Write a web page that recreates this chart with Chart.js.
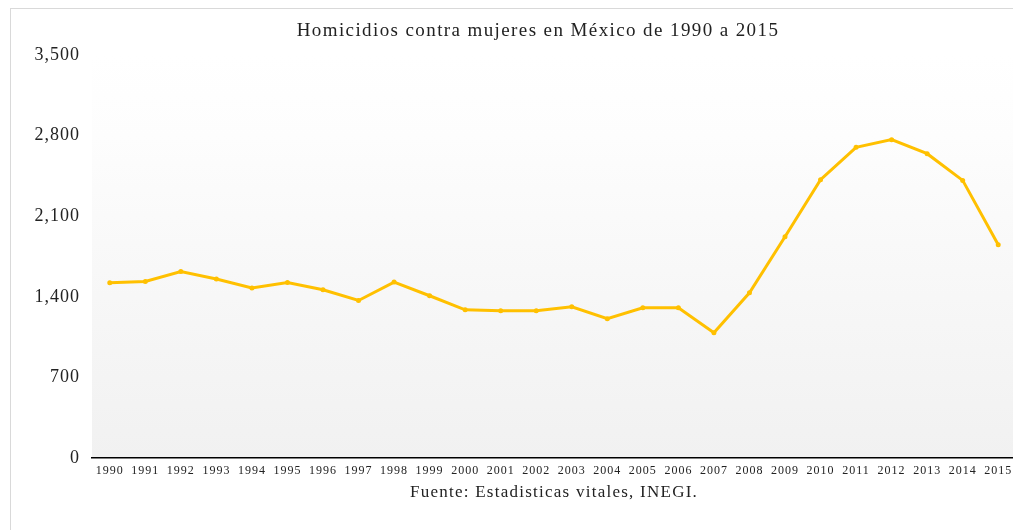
<!DOCTYPE html>
<html>
<head>
<meta charset="utf-8">
<script src="https://cdn.jsdelivr.net/npm/chart.js@4.4.1/dist/chart.umd.min.js"></script>
<style>
  html, body { margin: 0; padding: 0; background: #fff; overflow: hidden; }
  #frame { position: absolute; left: 10px; top: 8px; width: 1100px; height: 600px; border: 1px solid #d9d9d9; }
  #wrap { position: absolute; left: 0; top: 0; width: 1030px; height: 530px; }
</style>
</head>
<body>
<div id="frame"></div>
<div id="wrap"><canvas id="homicidios" width="1030" height="530"></canvas></div>
<script>
const years = ['1990', '1991', '1992', '1993', '1994', '1995', '1996', '1997', '1998', '1999',
  '2000', '2001', '2002', '2003', '2004', '2005', '2006', '2007', '2008', '2009',
  '2010', '2011', '2012', '2013', '2014', '2015'];
const homicidios = [1522, 1533, 1620, 1554, 1476, 1525, 1461, 1368, 1528, 1409,
  1287, 1278, 1278, 1313, 1209, 1304, 1304, 1087, 1435, 1922,
  2417, 2698, 2765, 2643, 2411, 1852];
const yTicks = [0, 700, 1400, 2100, 2800, 3500];

const chartTitle = 'Homicidios contra mujeres en México de 1990 a 2015';
const sourceText = 'Fuente: Estadisticas vitales, INEGI.';

// fondo degradado del area de trazado + letras algo espaciadas en los ejes
const areaBackground = {
  id: 'areaBackground',
  beforeDraw(chart) {
    const { ctx, chartArea } = chart;
    const g = ctx.createLinearGradient(0, chartArea.top, 0, chartArea.bottom);
    g.addColorStop(0, '#ffffff');
    g.addColorStop(0.2, '#fdfdfd');
    g.addColorStop(1, '#f1f1f1');
    ctx.save();
    ctx.fillStyle = g;
    ctx.fillRect(chartArea.left, chartArea.top, chartArea.right - chartArea.left, chartArea.bottom - chartArea.top);
    ctx.restore();
    ctx.letterSpacing = '1px';
  },
  beforeDatasetsDraw(chart) {
    chart.ctx.letterSpacing = '0px';
  }
};

// titulo y fuente
const titleText = {
  id: 'titleText',
  afterDraw(chart) {
    const ctx = chart.ctx;
    const area = chart.chartArea;
    ctx.save();
    ctx.fillStyle = '#222';
    ctx.textAlign = 'center';
    ctx.textBaseline = 'middle';
    ctx.font = '19px "Liberation Serif"';
    ctx.letterSpacing = '1.4px';
    ctx.fillText(chartTitle, 538, 31);
    ctx.font = '17px "Liberation Serif"';
    ctx.letterSpacing = '1.25px';
    ctx.fillText(sourceText, (area.left + area.right) / 2, 493);
    ctx.restore();
  }
};

const ctx = document.getElementById('homicidios').getContext('2d');
new Chart(ctx, {
  type: 'line',
  data: {
    labels: years,
    datasets: [{
      label: 'Homicidios',
      data: homicidios,
      borderColor: '#ffc000',
      backgroundColor: '#ffc000',
      borderWidth: 3,
      pointRadius: 1,
      pointHoverRadius: 3,
      tension: 0,
      fill: false
    }]
  },
  options: {
    responsive: false,
    animation: false,
    devicePixelRatio: 1,
    layout: { padding: { top: 55, right: 14, bottom: 0, left: 0 } },
    plugins: {
      legend: { display: false },
      title: { display: false },
      tooltip: { enabled: false }
    },
    scales: {
      x: {
        offset: true,
        grid: { display: false, drawTicks: false },
        border: { display: true, color: '#000', width: 1.5 },
        ticks: {
          color: '#222',
          font: { family: 'Liberation Serif', size: 12 },
          padding: 6,
          maxRotation: 0,
          autoSkip: false
        },
        afterFit(scale) { scale.height = 72; }
      },
      y: {
        min: 0,
        max: 3500,
        afterBuildTicks(scale) { scale.ticks = yTicks.map(v => ({ value: v })); },
        grid: { display: false, drawTicks: false },
        border: { display: false },
        ticks: {
          color: '#222',
          font: { family: 'Liberation Serif', size: 18 },
          padding: 12,
          callback: v => v.toLocaleString('en-US')
        },
        afterFit(scale) { scale.width = 92; }
      }
    }
  },
  plugins: [areaBackground, titleText]
});
</script>
</body>
</html>
